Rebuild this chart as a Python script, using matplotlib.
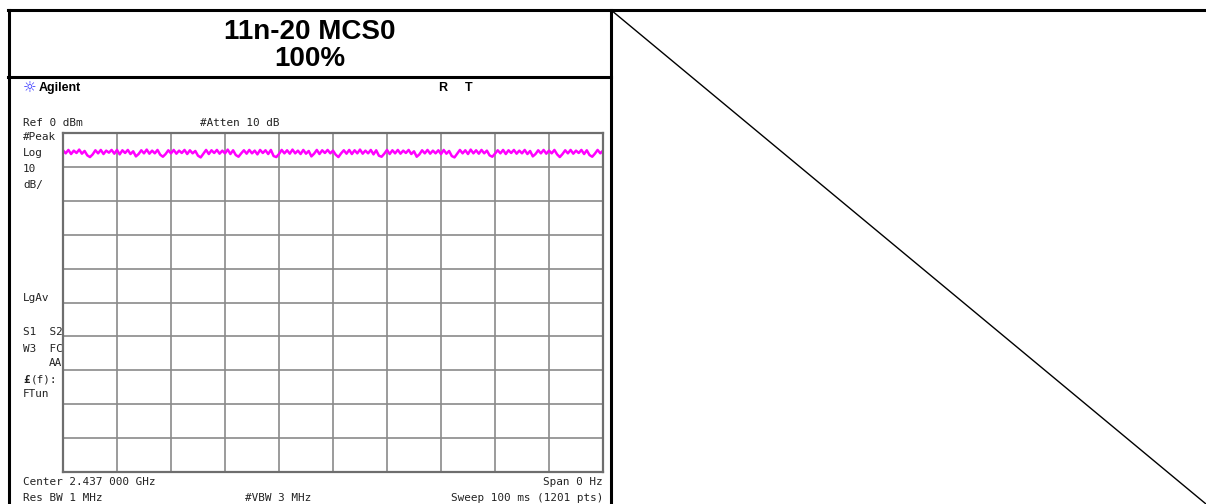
import matplotlib
matplotlib.use("Agg")
from matplotlib import pyplot as plt
import numpy as np

# analyzer settings
ref_level = 0.0      # dBm
db_per_div = 10.0
n_div = 10
sweep_ms = 100.0

# trace (dBm), 201 points across the sweep
trace = [
    -5.1,-6.0,-5.0,-6.2,-5.2,-5.9,-4.9,-6.1,-5.3,-6.6,-7.1,-6.3,-5.1,-6.0,-5.0,-6.2,-5.2,-5.8,-5.0,-6.1,
    -5.0,-6.3,-5.1,-5.9,-5.0,-6.2,-5.4,-6.9,-6.2,-5.1,-6.0,-4.9,-6.1,-5.2,-6.0,-5.0,-6.4,-7.0,-6.2,-5.1,
    -6.0,-5.0,-6.1,-5.2,-5.9,-5.0,-6.2,-5.1,-6.0,-5.3,-6.7,-7.2,-6.1,-5.0,-6.2,-5.1,-5.9,-5.0,-6.1,-5.2,
    -6.0,-4.9,-6.2,-5.1,-6.5,-7.0,-6.0,-5.1,-6.1,-5.0,-6.0,-5.2,-6.3,-5.0,-5.9,-5.1,-6.2,-5.0,-6.8,-7.1,
    -6.2,-5.0,-6.0,-5.1,-6.1,-4.9,-6.0,-5.2,-6.2,-5.0,-6.1,-5.3,-6.9,-6.1,-5.0,-6.2,-5.1,-5.9,-5.0,-6.0,
    -5.2,-6.4,-7.1,-6.0,-5.1,-6.1,-5.0,-6.2,-5.1,-6.0,-4.9,-6.1,-5.2,-6.0,-5.0,-6.3,-5.1,-6.7,-7.0,-6.1,
    -5.0,-6.2,-5.1,-6.0,-5.0,-6.1,-5.2,-5.9,-5.0,-6.2,-5.4,-7.0,-6.3,-5.1,-6.0,-5.0,-6.1,-5.2,-6.0,-5.1,
    -6.2,-5.0,-6.1,-5.3,-6.8,-7.2,-6.1,-5.0,-6.0,-5.1,-6.2,-4.9,-6.0,-5.1,-6.1,-5.0,-6.0,-5.2,-6.6,-7.0,
    -6.1,-5.1,-6.0,-5.0,-6.2,-5.1,-5.9,-5.0,-6.1,-5.2,-6.0,-5.0,-6.2,-5.3,-6.9,-6.2,-5.1,-6.0,-5.0,-6.1,
    -5.2,-6.0,-5.0,-6.3,-7.1,-6.2,-5.1,-6.0,-5.0,-6.1,-5.2,-5.9,-5.0,-6.2,-5.1,-6.5,-7.0,-6.1,-5.0,-6.0,
    -5.2,
]
t = np.linspace(0, sweep_ms, len(trace))

title_lines = ["11n-20 MCS0", "100%"]

W, H = 1206, 504
fig = plt.figure(figsize=(W/100, H/100), dpi=100)

# overlay in pixel units for the table frame and screen annotations
ov = fig.add_axes([0, 0, 1, 1])
ov.set_xlim(0, W)
ov.set_ylim(H, 0)
ov.axis("off")

lw = 2.2
ov.plot([8, W], [10, 10], color="k", lw=lw)
ov.plot([9, 9], [10, H], color="k", lw=lw)
ov.plot([611, 611], [10, H], color="k", lw=lw)
ov.plot([8, 611], [77, 77], color="k", lw=lw)
ov.plot([611, W], [10, H], color="k", lw=1.0)

ov.text(310, 32, title_lines[0], ha="center", va="center", fontsize=20,
        fontweight="bold", family="Liberation Sans")
ov.text(310, 59, title_lines[1], ha="center", va="center", fontsize=20,
        fontweight="bold", family="Liberation Sans")

# header
ov.text(30, 88, "\u263c", ha="center", va="center", fontsize=11, color="#3333ff",
        family="DejaVu Sans")
ov.text(39, 88, "Agilent", ha="left", va="center", fontsize=9,
        fontweight="bold", family="Liberation Sans")
ov.text(443, 88, "R", ha="center", va="center", fontsize=9, fontweight="bold",
        family="Liberation Sans")
ov.text(469, 88, "T", ha="center", va="center", fontsize=9, fontweight="bold",
        family="Liberation Sans")

mono = dict(family="DejaVu Sans Mono", fontsize=7.9, va="center", color="#222222")
ov.text(23, 123, "Ref 0 dBm", ha="left", **mono)
ov.text(200, 123, "#Atten 10 dB", ha="left", **mono)
ov.text(23, 137, "#Peak", ha="left", **mono)
ov.text(23, 153, "Log", ha="left", **mono)
ov.text(23, 169, "10", ha="left", **mono)
ov.text(23, 185, "dB/", ha="left", **mono)
ov.text(23, 298, "LgAv", ha="left", **mono)
ov.text(23, 332, "S1  S2", ha="left", **mono)
ov.text(23, 349, "W3  FC", ha="left", **mono)
ov.text(62, 363, "AA", ha="right", **mono)
ov.text(23, 380, "\u00a3", ha="left", fontweight="bold", **mono)
ov.text(31, 380, "(f):", ha="left", **mono)
ov.text(23, 394, "FTun", ha="left", **mono)
ov.text(23, 482, "Center 2.437 000 GHz", ha="left", **mono)
ov.text(603, 482, "Span 0 Hz", ha="right", **mono)
ov.text(23, 498, "Res BW 1 MHz", ha="left", **mono)
ov.text(245, 498, "#VBW 3 MHz", ha="left", **mono)
ov.text(603, 498, "Sweep 100 ms (1201 pts)", ha="right", **mono)

# analyzer graticule
x0, y0, x1, y1 = 63, 133, 603, 472
ax = fig.add_axes([x0/W, 1 - y1/H, (x1 - x0)/W, (y1 - y0)/H])
ax.set_xlim(0, sweep_ms)
ax.set_ylim(ref_level - n_div*db_per_div, ref_level)
ax.set_xticks(np.linspace(0, sweep_ms, n_div + 1))
ax.set_yticks(np.linspace(ref_level - n_div*db_per_div, ref_level, n_div + 1))
ax.tick_params(length=0, labelbottom=False, labelleft=False)
ax.grid(True, color="#8a8a8a", lw=1.2)
ax.set_axisbelow(True)
for s in ax.spines.values():
    s.set_color("#6e6e6e")
    s.set_linewidth(1.6)
ax.plot(t, trace, color="#ff00ff", lw=1.8)

fig.savefig("out.png", dpi=100)
